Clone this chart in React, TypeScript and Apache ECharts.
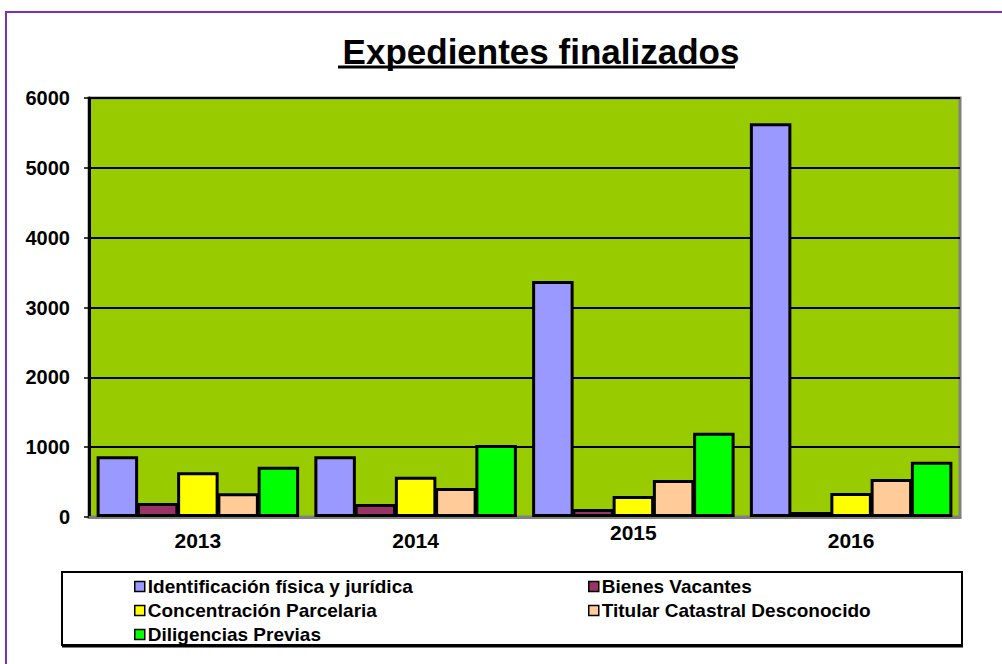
import React, { useEffect, useRef } from "react";
import * as echarts from "echarts";

const years = ["2013", "2014", "2015", "2016"];
const seriesNames = [
  "Identificación física y jurídica",
  "Bienes Vacantes",
  "Concentración Parcelaria",
  "Titular Catastral Desconocido",
  "Diligencias Previas",
];
const identificacion = [870, 870, 3380, 5640];
const bienesVacantes = [200, 185, 115, 70];
const concentracion = [640, 575, 300, 345];
const titular = [340, 415, 530, 545];
const diligencias = [720, 1030, 1205, 790];
const colors = ["#9999FF", "#993366", "#FFFF00", "#FFCC99", "#00FF00"];
const yTicks = [0, 1000, 2000, 3000, 4000, 5000, 6000];

const FONT = "'Liberation Sans', Arial, sans-serif";

export default function App() {
  const ref = useRef<HTMLDivElement>(null);
  useEffect(() => {
    if (!ref.current) return;
    const chart = echarts.init(ref.current, null, { renderer: "svg" });
    const values = [identificacion, bienesVacantes, concentracion, titular, diligencias];
    const legendText = {
      fontFamily: FONT,
      fontSize: 19,
      fontWeight: "bold",
      color: "#000",
      lineHeight: 19,
      padding: [0, 0, 0, -2],
    };
    const labelBase = { fontFamily: FONT, fontSize: 21, fontWeight: "bold", color: "#000" };
    chart.setOption({
      animation: false,
      backgroundColor: "#ffffff",
      title: {
        text: "Expedientes finalizados",
        left: 536,
        top: 29,
        textAlign: "center",
        textStyle: { fontFamily: FONT, fontSize: 35, fontWeight: "bold", color: "#000" },
      },
      grid: {
        left: 89,
        right: 42,
        top: 98,
        bottom: 147,
        show: true,
        backgroundColor: "#99CC00",
        borderColor: "#808080",
        borderWidth: 3,
      },
      legend: [
        {
          data: [seriesNames[0], seriesNames[2], seriesNames[4]],
          orient: "vertical",
          left: 134,
          top: 577,
          padding: 0,
          itemGap: 5,
          itemWidth: 10,
          itemHeight: 10,
          icon: "rect",
          itemStyle: { borderColor: "#000", borderWidth: 1.5 },
          textStyle: legendText,
        },
        {
          data: [seriesNames[1], seriesNames[3]],
          orient: "vertical",
          left: 588,
          top: 577,
          padding: 0,
          itemGap: 5,
          itemWidth: 10,
          itemHeight: 10,
          icon: "rect",
          itemStyle: { borderColor: "#000", borderWidth: 1.5 },
          textStyle: legendText,
        },
      ],
      xAxis: {
        type: "category",
        data: years,
        axisLine: { show: true, lineStyle: { color: "#808080", width: 3 } },
        axisTick: { show: false },
        axisLabel: {
          ...labelBase,
          margin: 13,
          formatter: (v: string) => (v === "2015" ? "{up|" + v + "}" : v),
          rich: { up: { ...labelBase, padding: [-8, 0, 0, 0] } },
        },
      },
      yAxis: {
        type: "value",
        min: yTicks[0],
        max: yTicks[yTicks.length - 1],
        interval: 1000,
        axisLine: { show: true, lineStyle: { color: "#000", width: 3 } },
        axisTick: { show: true, length: 5, lineStyle: { color: "#000", width: 1.5 } },
        axisLabel: {
          fontFamily: FONT,
          fontSize: 20,
          fontWeight: "bold",
          color: "#000",
          margin: 19,
          formatter: (v: number) => String(v),
        },
        splitLine: { show: true, lineStyle: { color: "#000", width: 2 } },
      },
      series: seriesNames.map((name, i) => ({
        name,
        type: "bar",
        data: values[i],
        barGap: "-3%",
        barCategoryGap: "7%",
        itemStyle: { color: colors[i], borderColor: "#000", borderWidth: 3 },
      })),
      graphic: [
        {
          type: "rect",
          shape: { x: 6, y: 12, width: 1100, height: 800 },
          style: { fill: "none", stroke: "#7B2FBE", lineWidth: 2 },
          silent: true,
        },
        {
          type: "line",
          shape: { x1: 338, y1: 67, x2: 735, y2: 67 },
          style: { stroke: "#000", lineWidth: 3 },
          silent: true,
        },
        {
          type: "rect",
          shape: { x: 62, y: 572, width: 900, height: 73 },
          style: { fill: "none", stroke: "#000", lineWidth: 2 },
          silent: true,
        },
        {
          type: "line",
          shape: { x1: 62, y1: 646, x2: 963, y2: 646 },
          style: { stroke: "#000", lineWidth: 3 },
          silent: true,
        },
      ],
    });
    return () => chart.dispose();
  }, []);
  return (
    <div
      ref={ref}
      style={{ position: "absolute", left: 0, top: 0, width: 1002, height: 664 }}
    />
  );
}
